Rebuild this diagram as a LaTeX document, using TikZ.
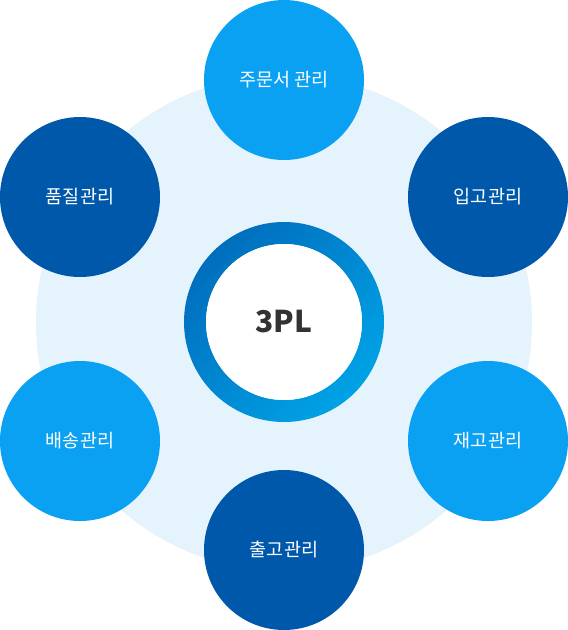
\documentclass[tikz,border=0pt]{standalone}
\usepackage{fontspec}
\setmainfont{Noto Sans CJK KR}
\definecolor{bgblue}{HTML}{E5F3FC}
\definecolor{lightblue}{HTML}{0AA1F3}
\definecolor{darkblue}{HTML}{0058AA}
\definecolor{ringtop}{HTML}{006EBD}
\definecolor{ringbot}{HTML}{00A2E6}
\definecolor{textgray}{HTML}{333333}
\begin{document}
\begin{tikzpicture}
  [x=1pt,y=-1pt,every node/.style={circle,minimum size=160pt,inner sep=0pt,text=white,font=\fontsize{18.5}{20}\selectfont}]
  \useasboundingbox (0,0) rectangle (568,630);
  \fill[bgblue] (284,323) circle (248);
  \shade[even odd rule,top color=ringtop,bottom color=ringbot,shading angle=45] (284,322) circle (100) (284,322) circle (78);
  \node[fill=white,minimum size=156pt,text=textgray,font=\fontsize{30}{32}\selectfont\bfseries] (c) at (284,322) {3PL};
  \node[fill=lightblue] (n1) at (284,80)  {주문서 관리};
  \node[fill=darkblue]  (n2) at (488,197) {입고관리};
  \node[fill=lightblue] (n3) at (488,441) {재고관리};
  \node[fill=darkblue]  (n4) at (284,550) {출고관리};
  \node[fill=lightblue] (n5) at (80,441)  {배송관리};
  \node[fill=darkblue]  (n6) at (80,197)  {품질관리};
\end{tikzpicture}
\end{document}
